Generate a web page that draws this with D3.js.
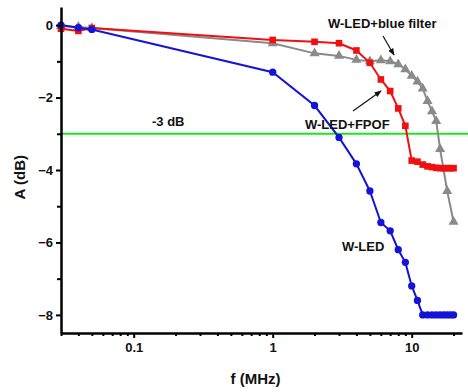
<!DOCTYPE html>
<html>
<head>
<meta charset="utf-8">
<script src="https://cdn.jsdelivr.net/npm/d3@7"></script>
<style>
  body { margin: 0; background: #fff; }
  text { font-family: "Liberation Sans", Arial, sans-serif; font-weight: bold; fill: #111; }
</style>
</head>
<body>
<div id="chart"></div>
<script>
// data (frequency in MHz, attenuation in dB)
const ledFreq = [0.03, 0.04, 0.05, 1, 2, 3, 4, 5, 6, 7, 8, 9, 10, 11, 12, 13, 14, 15, 16, 17, 18, 19, 20];
const ledDb = [0, -0.07, -0.12, -1.3, -2.22, -3.1, -3.83, -4.58, -5.45, -5.68, -6.2, -6.55, -7.2, -7.6, -8, -8, -8, -8, -8, -8, -8, -8, -8];

const fpofFreq = [0.03, 0.04, 0.05, 1, 2, 3, 4, 5, 6, 7, 8, 9, 10, 11, 12, 13, 14, 15, 16, 17, 18, 19, 20];
const fpofDb = [-0.1, -0.16, -0.08, -0.41, -0.46, -0.5, -0.7, -1.04, -1.5, -1.82, -2.3, -2.78, -3.74, -3.77, -3.85, -3.9, -3.92, -3.94, -3.95, -3.95, -3.95, -3.95, -3.95];

const filterFreq = [0.03, 0.04, 0.05, 1, 2, 3, 4, 5, 6, 7, 8, 9, 10, 11, 12, 13, 14, 15, 16, 18, 20];
const filterDb = [-0.03, -0.05, -0.08, -0.5, -0.78, -0.85, -0.96, -1.0, -0.97, -1.0, -1.08, -1.22, -1.4, -1.56, -1.75, -2.1, -2.38, -2.65, -3.42, -4.58, -5.43];

const yTicks = [0, -2, -4, -6, -8];
const yMinor = [-1, -3, -5, -7];
const xTicks = [0.1, 1, 10];
const xMinor = [0.03, 0.04, 0.05, 0.06, 0.07, 0.08, 0.09, 0.2, 0.3, 0.4, 0.5, 0.6, 0.7, 0.8, 0.9,
                2, 3, 4, 5, 6, 7, 8, 9, 20];

const W = 468, H = 392;
const margin = { top: 7, right: 6, bottom: 59, left: 61 };
const width = W - margin.left - margin.right;
const height = H - margin.top - margin.bottom;

const x = d3.scaleLog().domain([0.03, 23]).range([0, width]);
const y = d3.scaleLinear().domain([-8.5, 0.5]).range([height, 0]);

const svg = d3.select("#chart").append("svg")
    .attr("width", W)
    .attr("height", H)
  .append("g")
    .attr("transform", `translate(${margin.left},${margin.top})`);

// -3 dB line
svg.append("line")
    .attr("x1", 0).attr("x2", width + 6)
    .attr("y1", y(-3)).attr("y2", y(-3))
    .attr("stroke", "#1ee61e")
    .attr("stroke-width", 2);

svg.append("text")
    .attr("x", 91).attr("y", y(-3) - 8)
    .attr("font-size", 13)
    .text("-3 dB");

const line = d3.line()
    .x(d => x(d[0]))
    .y(d => y(d[1]));

function series(freq, db, color, shape) {
  const pts = freq.map((f, i) => [f, db[i]]);
  svg.append("path")
      .datum(pts)
      .attr("fill", "none")
      .attr("stroke", color)
      .attr("stroke-width", 2)
      .attr("d", line);
  svg.selectAll(null)
      .data(pts)
    .enter().append("path")
      .attr("transform", d => `translate(${x(d[0])},${y(d[1])})`)
      .attr("d", d3.symbol().type(shape).size(shape === d3.symbolCircle ? 42 : 44))
      .attr("fill", color);
}

series(filterFreq, filterDb, "#8a8a8a", d3.symbolTriangle);
series(fpofFreq, fpofDb, "#f01010", d3.symbolSquare);
series(ledFreq, ledDb, "#1414d8", d3.symbolCircle);

// axes
const yAxis = svg.append("g")
    .call(d3.axisLeft(y).tickValues(yTicks).tickFormat(d3.format("d")).tickSize(5).tickSizeOuter(0));
svg.append("g")
    .call(d3.axisLeft(y).tickValues(yMinor).tickFormat("").tickSize(4).tickSizeOuter(0))
    .select(".domain").remove();

const xAxis = svg.append("g")
    .attr("transform", `translate(0,${height})`)
    .call(d3.axisBottom(x).tickValues(xTicks).tickFormat(d => d < 1 ? "0.1" : d3.format("d")(d)).tickSize(5).tickSizeOuter(0));
svg.append("g")
    .attr("transform", `translate(0,${height})`)
    .call(d3.axisBottom(x).tickValues(xMinor).tickFormat("").tickSize(3).tickSizeOuter(0))
    .select(".domain").remove();

svg.selectAll(".domain").attr("stroke", "#000").attr("stroke-width", 2.5);
svg.selectAll(".tick line").attr("stroke", "#000").attr("stroke-width", 2);
yAxis.selectAll("text").attr("font-size", 13).attr("font-family", "Liberation Sans, Arial, sans-serif").attr("font-weight", "bold").attr("fill", "#111").attr("x", -8);
xAxis.selectAll("text").attr("font-size", 13).attr("font-family", "Liberation Sans, Arial, sans-serif").attr("font-weight", "bold").attr("fill", "#111").attr("y", 10);

// axis titles
svg.append("text")
    .attr("x", width / 2 - 6).attr("y", height + 51)
    .attr("text-anchor", "middle")
    .attr("font-size", 15)
    .text("f (MHz)");

svg.append("text")
    .attr("transform", `translate(-36,${y(-4.2)}) rotate(-90)`)
    .attr("text-anchor", "middle")
    .attr("font-size", 15)
    .text("A (dB)");

// annotations
svg.append("defs").append("marker")
    .attr("id", "arrow")
    .attr("viewBox", "0 0 10 10")
    .attr("refX", 9).attr("refY", 5)
    .attr("markerWidth", 6).attr("markerHeight", 6)
    .attr("orient", "auto")
  .append("path")
    .attr("d", "M0,1 L10,5 L0,9 Z")
    .attr("fill", "#111");

svg.append("text")
    .attr("x", 267).attr("y", 21)
    .attr("font-size", 13)
    .text("W-LED+blue filter");
svg.append("line")
    .attr("x1", 322).attr("y1", 29).attr("x2", 333).attr("y2", 48)
    .attr("stroke", "#111").attr("stroke-width", 1.2)
    .attr("marker-end", "url(#arrow)");

svg.append("text")
    .attr("x", 244).attr("y", 122)
    .attr("font-size", 13)
    .text("W-LED+FPOF");
svg.append("line")
    .attr("x1", 292).attr("y1", 104).attr("x2", 320).attr("y2", 84)
    .attr("stroke", "#111").attr("stroke-width", 1.2)
    .attr("marker-end", "url(#arrow)");

svg.append("text")
    .attr("x", 281).attr("y", 244)
    .attr("font-size", 13)
    .text("W-LED");
</script>
</body>
</html>
